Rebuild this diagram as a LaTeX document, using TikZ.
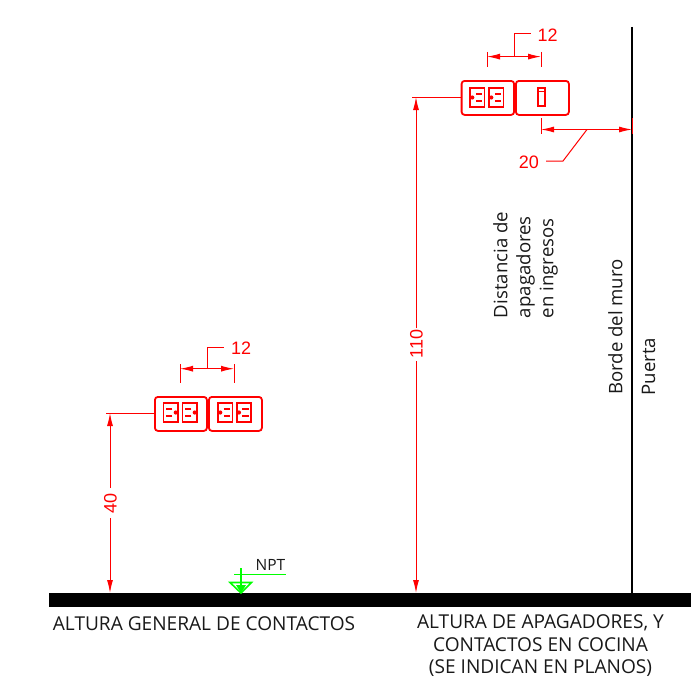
\documentclass[tikz,border=0pt]{standalone}
\usepackage{fontspec}
\setmainfont{Open Sans}
\newfontfamily\dimfont{Liberation Sans}
\usetikzlibrary{arrows.meta}
\definecolor{cadred}{RGB}{255,0,0}
\definecolor{cadgreen}{RGB}{0,255,0}
\tikzset{
  x=1pt,y=-1pt,
  dimline/.style={draw=cadred,line width=1pt},
  dimarrow/.style={dimline,{Latex[length=13pt,width=6pt]}-{Latex[length=13pt,width=6pt]}},
  dimend/.style={dimline,-{Latex[length=13pt,width=6pt]}},
  dimtext/.style={text=cadred,font=\dimfont\fontsize{18}{18}\selectfont,inner sep=0pt},
  vtext/.style={text=black!90,font=\fontsize{18.6}{23}\selectfont,inner sep=0pt,rotate=90,align=left},
  htext/.style={text=black!90,font=\fontsize{19.1}{22.5}\selectfont,inner sep=0pt,align=center},
  plate/.style={draw=cadred,line width=1.8pt,rounded corners=3pt},
  device/.style={draw=cadred,line width=1.7pt},
  slot/.style={draw=cadred,line width=2.2pt},
  greenline/.style={draw=cadgreen,line width=1.4pt},
}
% one half of an outlet: #1 left x, #2 top y, #3 = 1 pin on left, -1 pin on right
\newcommand{\outletcell}[3]{%
  \draw[device] (#1,#2) rectangle ++(14.5,19);
  \pgfmathsetmacro{\cxx}{#1+7.25}
  \draw[slot] (\cxx-#3*1.5,#2+6) -- ++(#3*6.5,0);
  \draw[slot] (\cxx-#3*1.5,#2+13) -- ++(#3*6.5,0);
  \fill[cadred] (\cxx-#3*5,#2+9.5) circle (2.1pt);
}
\begin{document}
\begin{tikzpicture}
\useasboundingbox (0,0) rectangle (691,693);
\fill[white] (0,0) rectangle (691,693);

% floor and wall
\node[fill=black,minimum width=642pt,minimum height=14pt,inner sep=0pt,anchor=north west] (floor) at (49,593) {};
\coordinate (walltop) at (631.5,27);
\coordinate (wallbase) at (631.5,593);
\draw[black,line width=2pt] (walltop) -- (wallbase);

% left outlets
\node[plate,minimum width=52pt,minimum height=34pt,inner sep=0pt,anchor=north west] (plateA) at (154,396) {};
\node[plate,minimum width=53pt,minimum height=34pt,inner sep=0pt,anchor=north west] (plateB) at (208,396) {};
\outletcell{163.5}{403}{-1}
\outletcell{182.5}{403}{-1}
\outletcell{218}{403}{1}
\outletcell{236.7}{403}{1}

% top devices
\node[plate,minimum width=52.5pt,minimum height=34pt,inner sep=0pt,anchor=north west] (plateC) at (460.7,80) {};
\node[plate,minimum width=53pt,minimum height=34pt,inner sep=0pt,anchor=north west] (plateD) at (515,80) {};
\outletcell{470}{88}{1}
\outletcell{489}{88}{1}
\draw[device,line width=2.6pt] (538,88) rectangle (545,106);
\draw[device,line width=1.8pt] (538,91.5) -- (545,91.5);

% dimension 40
\coordinate (d40a) at (110,413);
\coordinate (d40b) at (110,593);
\coordinate (d40g1) at (110,488);
\coordinate (d40g2) at (110,518);
\node[dimtext,rotate=90] (t40) at (110.5,503) {40};
\draw[dimend] (d40g1) -- (d40a);
\draw[dimend] (d40g2) -- (d40b);
\coordinate (e40) at (106,413);
\draw[dimline] (e40) -- (plateA.west |- e40);

% dimension 110
\coordinate (d110a) at (416,97);
\coordinate (d110b) at (416,593);
\coordinate (d110g1) at (416,328);
\coordinate (d110g2) at (416,361);
\node[dimtext,rotate=90] (t110) at (416.5,344) {110};
\draw[dimend] (d110g1) -- (d110a);
\draw[dimend] (d110g2) -- (d110b);
\coordinate (e110) at (412,97);
\draw[dimline] (e110) -- (plateC.west |- e110);

% left dimension 12
\coordinate (la) at (180,368.7);
\coordinate (lb) at (234,368.7);
\coordinate (lm) at (207,368.7);
\coordinate (lk) at (207,347);
\coordinate (ll) at (224,347);
\node[dimtext,anchor=west] (tl12) at (231,348) {12};
\draw[dimarrow] (la) -- (lb);
\draw[dimline] (180,364) -- (180,383);
\draw[dimline] (234,364) -- (234,383);
\draw[dimline] (lm) -- (lk) -- (ll);

% top dimension 12
\coordinate (ta) at (487,56.6);
\coordinate (tb) at (541,56.6);
\coordinate (tm) at (514,56.6);
\coordinate (tk) at (514,34);
\coordinate (tl) at (531,34);
\node[dimtext,anchor=west] (tt12) at (537.5,35) {12};
\draw[dimarrow] (ta) -- (tb);
\draw[dimline] (487,52) -- (487,67);
\draw[dimline] (541,52) -- (541,67);
\draw[dimline] (tm) -- (tk) -- (tl);

% dimension 20
\coordinate (wa) at (541,129.5);
\coordinate (wb) at (632,129.5);
\coordinate (wm) at (587,129.5);
\coordinate (wk) at (563,161);
\coordinate (wl) at (546,161);
\node[dimtext,anchor=east] (t20) at (539,162) {20};
\draw[dimarrow] (wa) -- (wb);
\draw[dimline] (541,118) -- (541,134);
\draw[dimline] (632,118) -- (632,134);
\draw[dimline] (wm) -- (wk) -- (wl);

% NPT level
\coordinate (na) at (241,568);
\coordinate (nb) at (241,593);
\coordinate (nc) at (234,574.5);
\coordinate (nd) at (286,574.5);
\coordinate (ne) at (230,582.5);
\coordinate (nf) at (251.5,582.5);
\draw[greenline] (na) -- (nb);
\draw[greenline] (nc) -- (nd);
\draw[greenline,line width=1.6pt] (ne) -- (nf) -- (nb) -- cycle;
\fill[cadgreen] (236,585) -- (246,585) -- (241,593) -- cycle;
\node[text=black!90,font=\fontsize{15.5}{16}\selectfont,inner sep=0pt] (npt) at (270.5,565) {NPT};

% texts
\node[vtext] (dist) at (525.5,265) {Distancia de\\apagadores\\en ingresos};
\node[vtext] (borde) at (615.5,327) {Borde del muro};
\node[vtext] (puerta) at (648.5,366.5) {Puerta};
\node[htext] (gen) at (204,624) {ALTURA GENERAL DE CONTACTOS};
\node[htext] (apag) at (540.5,646) {ALTURA DE APAGADORES, Y\\CONTACTOS EN COCINA\\(SE INDICAN EN PLANOS)};
\end{tikzpicture}
\end{document}
